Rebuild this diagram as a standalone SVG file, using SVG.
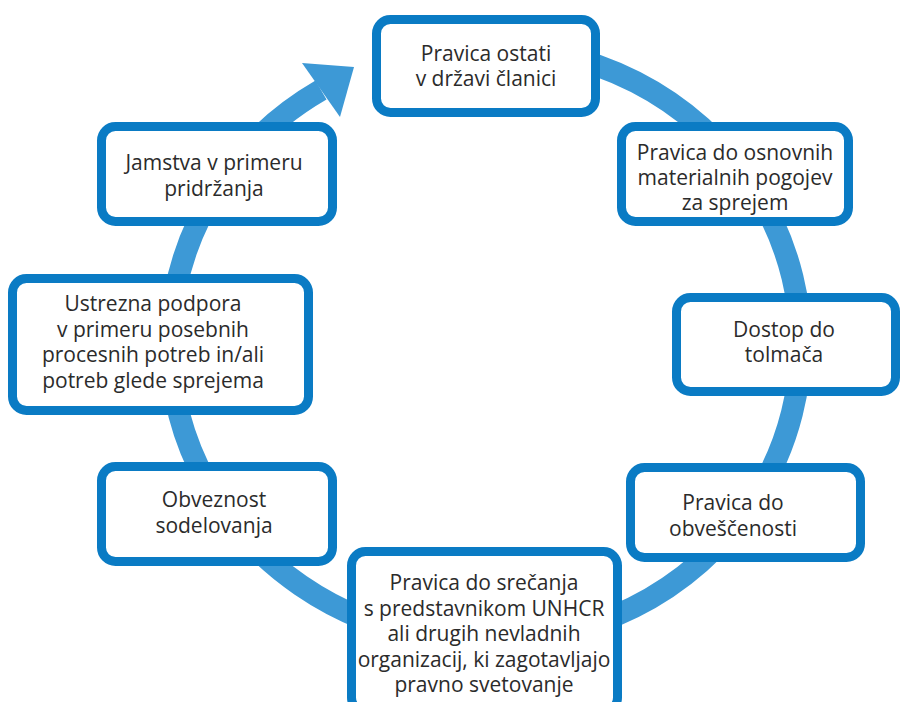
<svg xmlns="http://www.w3.org/2000/svg" width="904" height="702" viewBox="0 0 904 702">
<style>
.box{fill:#fff;stroke:#0a7bc4;stroke-width:9}
.ring{fill:none;stroke:#3d99d6;stroke-width:22}
.arrow{fill:#3d99d6}
text{font-family:"Open Sans","Noto Sans","DejaVu Sans",sans-serif;font-size:21px;fill:#2b2b2b;text-anchor:middle}
</style>
<rect width="904" height="702" fill="#fff"/>
<g id="connectors">
<path class="ring" d="M 435 50 A 315 298 0 1 1 321 90"/>
<polygon class="arrow" points="302,63 354,67 340,117"/>
</g>
<g id="n1"><rect class="box" x="376.5" y="19.5" width="219" height="93" rx="14"/>
<text x="486" y="61">Pravica ostati</text><text x="486" y="86">v državi članici</text></g>
<g id="n2"><rect class="box" x="621.5" y="126.5" width="227" height="95" rx="14"/>
<text x="735" y="160">Pravica do osnovnih</text><text x="735" y="185">materialnih pogojev</text><text x="735" y="210">za sprejem</text></g>
<g id="n3"><rect class="box" x="676.5" y="297.5" width="219" height="94" rx="14"/>
<text x="784" y="337">Dostop do</text><text x="784" y="362">tolmača</text></g>
<g id="n4"><rect class="box" x="630.5" y="467.5" width="230" height="90" rx="14"/>
<text x="733" y="510">Pravica do</text><text x="733" y="536">obveščenosti</text></g>
<g id="n5"><rect class="box" x="351.5" y="551.5" width="266" height="160" rx="14"/>
<text x="484" y="590">Pravica do srečanja</text><text x="484" y="616">s predstavnikom UNHCR</text><text x="484" y="641">ali drugih nevladnih</text><text x="484" y="667">organizacij, ki zagotavljajo</text><text x="484" y="692">pravno svetovanje</text></g>
<g id="n6"><rect class="box" x="101.5" y="466.5" width="231" height="95" rx="14"/>
<text x="214" y="507">Obveznost</text><text x="214" y="533">sodelovanja</text></g>
<g id="n7"><rect class="box" x="12.5" y="278.5" width="296" height="132" rx="14"/>
<text x="153" y="311">Ustrezna podpora</text><text x="153" y="337">v primeru posebnih</text><text x="153" y="362">procesnih potreb in/ali</text><text x="153" y="388">potreb glede sprejema</text></g>
<g id="n8"><rect class="box" x="101.5" y="126.5" width="231" height="95" rx="14"/>
<text x="214" y="170">Jamstva v primeru</text><text x="214" y="196">pridržanja</text></g>
</svg>
